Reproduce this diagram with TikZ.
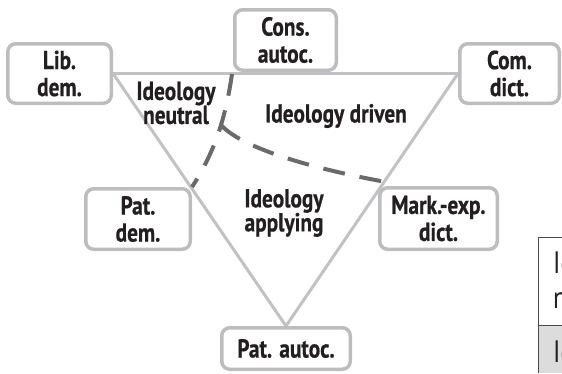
\documentclass[tikz,border=0pt]{standalone}
\usepackage{fontspec}
\setmainfont{PT Sans}[FakeStretch=0.82]
\newfontfamily\labfont{PT Sans}[FakeStretch=0.82, BoldFeatures={FakeBold=0.6}]
\usetikzlibrary{backgrounds}
\definecolor{boxgray}{HTML}{BDBDC0}
\definecolor{linegray}{HTML}{C2C2C4}
\definecolor{dashgray}{HTML}{6A6A6A}
\definecolor{txt}{HTML}{231F20}
\definecolor{rowgray}{HTML}{DCDCDC}
\definecolor{tabline}{HTML}{4A4A4A}
\begin{document}
\begin{tikzpicture}[x=1pt,y=-1pt,
  statebox/.style={draw=boxgray, line width=3.5pt, rounded corners=8pt, fill=white, text=txt,
    font=\labfont\fontsize{26}{27}\selectfont\bfseries, align=center, inner sep=0pt},
  region/.style={text=txt, font=\labfont\fontsize{26}{24}\selectfont\bfseries, align=center, inner sep=0pt},
  edge/.style={draw=linegray, line width=3pt},
  border/.style={draw=dashgray, line width=4pt, dash pattern=on 22pt off 15pt},
  tabtext/.style={text=txt, font=\fontsize{31}{35}\selectfont, inner sep=0pt, anchor=base west}]
\useasboundingbox (0,0) rectangle (562,373);
\clip (0,0) rectangle (562,373);
\node[statebox, minimum width=103.5pt, minimum height=59.5pt] (libdem) at (59.5,73.5) {Lib.\\dem.};
\node[statebox, minimum width=101.5pt, minimum height=60.5pt] (cons) at (285.5,40) {Cons.\\autoc.};
\node[statebox, minimum width=99.5pt, minimum height=59.5pt] (comdict) at (509.5,73.5) {Com.\\dict.};
\node[statebox, minimum width=104.5pt, minimum height=60.5pt] (patdem) at (138,219) {Pat.\\dem.};
\node[statebox, minimum width=117.5pt, minimum height=61.5pt] (markexp) at (438.5,218.5) {Mark.-exp.\\dict.};
\node[statebox, minimum width=128.5pt, minimum height=41.5pt] (patautoc) at (286,348.5) {Pat. autoc.};
\node[region] (neutral) at (176,103) {Ideology\\neutral};
\node[region] (driven) at (336,116) {Ideology driven};
\node[region] (applying) at (284,213) {Ideology\\applying};
\coordinate (dstart) at (232,74);
\coordinate (split) at (222,126);
\coordinate (dend) at (386,182);
\begin{scope}[on background layer]
  \draw[edge] (libdem.east) -- (comdict.west);
  \draw[edge] (libdem.east) -- (patautoc.north);
  \draw[edge] (comdict.west) -- (patautoc.north);
  \draw[border] (dstart) .. controls (226,115) and (216,150) .. (patdem.north east);
  \draw[border] (split) .. controls (245,150) and (320,170) .. (dend);
\end{scope}
\fill[rowgray] (538,325) rectangle (562,373);
\draw[tabline, line width=1pt] (562,237) -- (538,237) -- (538,373);
\draw[tabline, line width=1pt] (538,325) -- (562,325);
\node[tabtext] (t1) at (553,273) {Ideology};
\node[tabtext] (t2) at (553,308) {neutral};
\node[tabtext] (t3) at (553,362) {Ideology};
\end{tikzpicture}
\end{document}
